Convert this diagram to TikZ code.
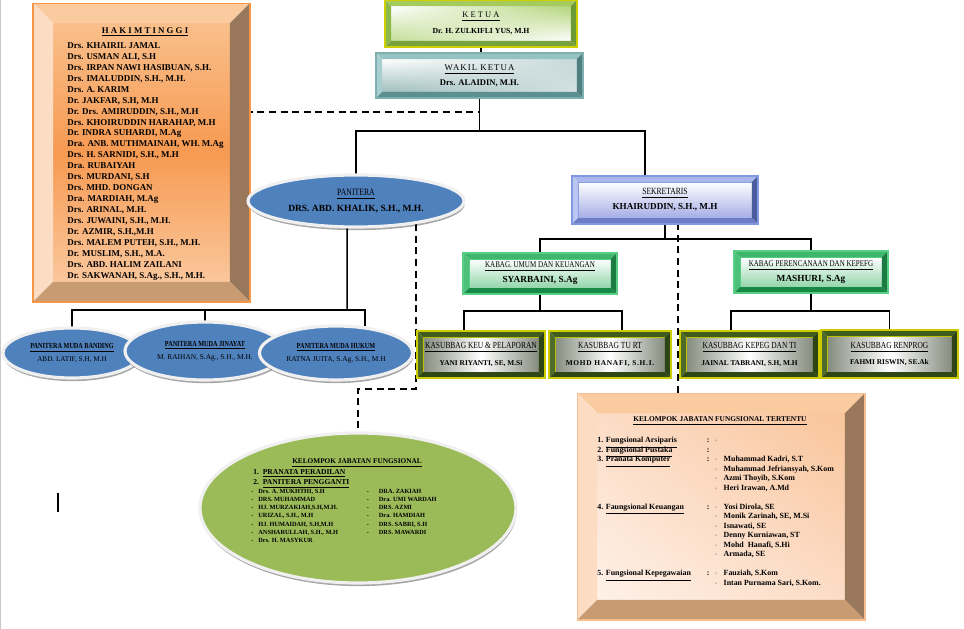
\documentclass[tikz,border=0pt]{standalone}
\usepackage{fontspec}
\setmainfont{Liberation Serif}
\newfontfamily\narrowfont[FakeStretch=0.8]{Liberation Serif}
\usepackage{tikz}
\usetikzlibrary{shapes.geometric,shadows,shadings,backgrounds}

% box colours
\definecolor{hakBorder}{HTML}{F79646}
\definecolor{hakTopB}{HTML}{FBCBA0}
\definecolor{hakLeftB}{HTML}{FCDDC4}
\definecolor{hakRightB}{HTML}{98775A}
\definecolor{hakBotB}{HTML}{C99B72}
\definecolor{hakFTop}{HTML}{F9BF8B}
\definecolor{hakFMid}{HTML}{F79A52}
\definecolor{hakFBot}{HTML}{FAC79C}
\definecolor{terBorder}{HTML}{F8BE90}
\definecolor{terFTop}{HTML}{F9C49A}
\definecolor{terFLow}{HTML}{FEF1E8}
\definecolor{terFMid}{HTML}{FCDCC6}
\definecolor{ketBorder}{HTML}{CFCF00}
\definecolor{ketTopB}{HTML}{A4CB5C}
\definecolor{ketLeftB}{HTML}{8DB94C}
\definecolor{ketRightB}{HTML}{6B9A36}
\definecolor{ketBotB}{HTML}{77A23D}
\definecolor{ketFace}{HTML}{B2D47A}
\definecolor{wakBorder}{HTML}{7FAFAF}
\definecolor{wakTopB}{HTML}{93C3C3}
\definecolor{wakLeftB}{HTML}{A7CFCF}
\definecolor{wakRightB}{HTML}{507F7F}
\definecolor{wakBotB}{HTML}{5C8F8F}
\definecolor{wakFace}{HTML}{9FBDBD}
\definecolor{sekBorder}{HTML}{8199E2}
\definecolor{sekTopB}{HTML}{A9B8EC}
\definecolor{sekLeftB}{HTML}{BAC5F1}
\definecolor{sekRightB}{HTML}{4B5C9C}
\definecolor{sekBotB}{HTML}{6D7EC6}
\definecolor{sekFace}{HTML}{A5AEE6}
\definecolor{kabBorder}{HTML}{58CF85}
\definecolor{kabTopB}{HTML}{3EB66B}
\definecolor{kabLeftB}{HTML}{4DC17A}
\definecolor{kabRightB}{HTML}{1C7B40}
\definecolor{kabBotB}{HTML}{178944}
\definecolor{kabFace}{HTML}{92D6AA}
\definecolor{kasBorder}{HTML}{CDCC00}
\definecolor{kasTopB}{HTML}{3F5B1E}
\definecolor{kasLeftB}{HTML}{4E6B2A}
\definecolor{kasRightB}{HTML}{2D4414}
\definecolor{kasBotB}{HTML}{2F4716}
\definecolor{kasSide}{HTML}{858C7E}
\definecolor{panBlue}{HTML}{4F81BD}
\definecolor{fungGreen}{HTML}{9BBB59}

\newcommand{\fs}[2]{\fontsize{#1}{#2}\selectfont}
\newcommand{\ulrow}[1]{\smash{\underline{#1}}}
\newcommand{\dsh}{\textcolor{black!45}{-}}
% bevelled frame round a face node: node, width, border, top, left, right, bottom
\newcommand{\bevel}[7]{%
  \path ([shift={(-#2,#2)}]#1.north west) coordinate (o1)
        ([shift={(#2,#2)}]#1.north east) coordinate (o2)
        ([shift={(#2,-#2)}]#1.south east) coordinate (o3)
        ([shift={(-#2,-#2)}]#1.south west) coordinate (o4);
  \fill[#4] (o1) -- (o2) -- (#1.north east) -- (#1.north west) -- cycle;
  \fill[#5] (o1) -- (#1.north west) -- (#1.south west) -- (o4) -- cycle;
  \fill[#6] (o2) -- (o3) -- (#1.south east) -- (#1.north east) -- cycle;
  \fill[#7] (o4) -- (#1.south west) -- (#1.south east) -- (o3) -- cycle;
  \draw[#3, line width=0.6pt] (o1) rectangle (o3);
}

\begin{document}
\begin{tikzpicture}[
  x=0.02cm, y=-0.02cm,
  face/.style={rectangle, inner sep=0pt, outer sep=0pt, align=center, font=\fs{5}{6}},
  oval/.style={ellipse, inner sep=0pt, outer sep=0pt, align=center, font=\fs{5}{6},
    draw=black!6, line width=1.8pt,
    drop shadow={shadow xshift=0.4pt, shadow yshift=-1.8pt, opacity=0.35, fill=black}},
  link/.style={line width=0.85pt},
  dlink/.style={line width=0.85pt, dash pattern=on 4pt off 2.6pt}
]
\useasboundingbox (0,0) rectangle (964,629);

% ── Hakim Tinggi ─────────────────────────────────────────────────────────
\node[face, minimum width=3.54cm, minimum height=5.18cm,
  top color=hakFTop, bottom color=hakFBot, middle color=hakFMid] (hakim) at (141.5,152.5) {};
\bevel{hakim}{0.4cm}{hakBorder}{hakTopB}{hakLeftB}{hakRightB}{hakBotB}
\node[font={\bfseries\fs{5}{6}}] (hakimTitle) at (145,32) {\underline{H A K I M T I N G G I}};
\node[anchor=north west, inner sep=0pt, align=left, font={\bfseries\fs{5.1}{6.24}}] (hakimList) at (67,42)
  {Drs. KHAIRIL JAMAL\\ Drs. USMAN ALI, S.H\\ Drs. IRPAN NAWI HASIBUAN, S.H.\\
   Drs. IMALUDDIN, S.H., M.H.\\ Drs. A. KARIM\\ Dr. JAKFAR, S.H, M.H\\
   Dr. Drs. AMIRUDDIN, S.H., M.H\\ Drs. KHOIRUDDIN HARAHAP, M.H\\ Dr. INDRA SUHARDI, M.Ag\\
   Dra. ANB. MUTHMAINAH, WH. M.Ag\\ Drs. H. SARNIDI, S.H., M.H\\ Dra. RUBAIYAH\\
   Drs. MURDANI, S.H\\ Drs. MHD. DONGAN\\ Dra. MARDIAH, M.Ag\\ Drs. ARINAL, M.H.\\
   Drs. JUWAINI, S.H., M.H.\\ Dr. AZMIR, S.H.,M.H\\ Drs. MALEM PUTEH, S.H., M.H.\\
   Dr. MUSLIM, S.H., M.A.\\ Drs. ABD. HALIM ZAILANI\\ Dr. SAKWANAH, S.Ag., S.H., M.H.};

% ── Ketua / Wakil Ketua ──────────────────────────────────────────────────
\node[face, minimum width=3.6cm, minimum height=0.7cm,
  upper left=white, upper right=ketFace, lower left=ketFace!80, lower right=white] (ketua) at (481,23.5)
  {\fs{4.8}{6}\underline{K E T U A}\\[3pt]\bfseries\fs{4.4}{6}Dr. H. ZULKIFLI YUS, M.H};
\bevel{ketua}{0.12cm}{ketBorder}{ketTopB}{ketLeftB}{ketRightB}{ketBotB}

\node[face, minimum width=3.9cm, minimum height=0.66cm,
  upper left=white, upper right=wakFace!60, lower left=wakFace, lower right=wakFace!45] (wakil) at (479.5,75.5)
  {{\fs{5}{6}\addfontfeatures{LetterSpace=12}\underline{WAKIL KETUA}}\\[2.5pt]\bfseries\fs{4.9}{6}Drs. ALAIDIN, M.H.};
\bevel{wakil}{0.12cm}{wakBorder}{wakTopB}{wakLeftB}{wakRightB}{wakBotB}

% ── Panitera and Panitera Muda ───────────────────────────────────────────
\node[oval, fill=panBlue, minimum width=4.32cm, minimum height=1.04cm] (panitera) at (356,201)
  {\narrowfont\fs{5.5}{6}\underline{PANITERA}\\[3pt]\rmfamily\bfseries\fs{5.4}{6}DRS. ABD. KHALIK, S.H., M.H.};

\node[oval, fill=panBlue, minimum width=2.76cm, minimum height=1.0cm] (muda1) at (72,353)
  {\narrowfont\bfseries\fs{4.4}{5}\underline{PANITERA MUDA BANDING}\\[1pt]\rmfamily\fs{4.1}{5}ABD. LATIF, S.H, M.H};
\node[oval, fill=panBlue, minimum width=3.2cm, minimum height=1.16cm] (muda2) at (205,351)
  {\narrowfont\bfseries\fs{4.4}{5}\underline{PANITERA MUDA JINAYAT}\\[1.4pt]\rmfamily\fs{4.2}{5}M. RAIHAN, S.Ag., S.H., M.H.};
\node[oval, fill=panBlue, minimum width=3.06cm, minimum height=1.08cm] (muda3) at (336,353)
  {\narrowfont\bfseries\fs{4.4}{5}\underline{PANITERA MUDA HUKUM}\\[1.4pt]\rmfamily\fs{4.2}{5}RATNA JUITA, S.Ag, S.H., M.H};

% ── Sekretaris and Kabag ─────────────────────────────────────────────────
\node[face, minimum width=3.48cm, minimum height=0.72cm, draw=sekBorder, line width=0.4pt,
  top color=white, bottom color=sekFace] (sekretaris) at (665,200)
  {\narrowfont\fs{5.4}{6}\underline{SEKRETARIS}\\[2.5pt]\rmfamily\bfseries\fs{5.2}{6}KHAIRUDDIN, S.H., M.H};
\bevel{sekretaris}{0.12cm}{sekBorder}{sekTopB}{sekLeftB}{sekRightB}{sekBotB}

\node[face, minimum width=2.84cm, minimum height=0.58cm, draw=kabBorder, line width=0.4pt,
  top color=white, bottom color=kabFace] (kabagU) at (540,273.5)
  {\narrowfont\fs{5}{6}\underline{KABAG. UMUM DAN KEUANGAN}\\[2.5pt]\rmfamily\bfseries\fs{5.3}{6}SYARBAINI, S.Ag};
\bevel{kabagU}{0.12cm}{kabBorder}{kabTopB}{kabLeftB}{kabRightB}{kabBotB}

\node[face, minimum width=2.84cm, minimum height=0.6cm, draw=kabBorder, line width=0.4pt,
  top color=white, bottom color=kabFace] (kabagP) at (811,272)
  {\narrowfont\fs{5}{6}\underline{KABAG PERENCANAAN DAN KEPEFG}\\[2.5pt]\rmfamily\bfseries\fs{5.3}{6}MASHURI, S.Ag};
\bevel{kabagP}{0.12cm}{kabBorder}{kabTopB}{kabLeftB}{kabRightB}{kabBotB}

% ── Kasubbag ─────────────────────────────────────────────────────────────
\tikzset{kasface/.style={face, minimum height=0.7cm, draw=kasBorder, line width=0.5pt,
  left color=kasSide, right color=kasSide, middle color=white}}
\node[kasface, minimum width=2.32cm] (keu) at (481,354.5)
  {\narrowfont\fs{5.3}{6}\underline{KASUBBAG KEU \& PELAPORAN}\\[3.3pt]\rmfamily\bfseries\fs{4.2}{6}YANI RIYANTI, SE, M.Si};
\bevel{keu}{0.12cm}{kasBorder}{kasTopB}{kasLeftB}{kasRightB}{kasBotB}
\node[kasface, minimum width=2.2cm] (turt) at (610,354.5)
  {\narrowfont\fs{5.3}{6}\underline{KASUBBAG TU RT}\\[3.3pt]\rmfamily\bfseries\fs{4.2}{6}\addfontfeatures{LetterSpace=10}MOHD HANAFI, S.H.I.};
\bevel{turt}{0.12cm}{kasBorder}{kasTopB}{kasLeftB}{kasRightB}{kasBotB}
\node[kasface, minimum width=2.54cm] (kepeg) at (749.5,354.5)
  {\narrowfont\fs{5.3}{6}\underline{KASUBBAG KEPEG DAN TI}\\[3.3pt]\rmfamily\bfseries\fs{4.2}{6}JAINAL TABRANI, S.H, M.H};
\bevel{kepeg}{0.12cm}{kasBorder}{kasTopB}{kasLeftB}{kasRightB}{kasBotB}
\node[kasface, minimum width=2.5cm, minimum height=0.72cm] (renprog) at (889.5,354)
  {\narrowfont\fs{5.3}{6}\underline{KASUBBAG RENPROG}\\[3.3pt]\rmfamily\bfseries\fs{4.2}{6}FAHMI RISWIN, SE.Ak};
\bevel{renprog}{0.12cm}{kasBorder}{kasTopB}{kasLeftB}{kasRightB}{kasBotB}

% ── Kelompok Jabatan Fungsional (ellipse) ────────────────────────────────
\node[oval, fill=fungGreen, minimum width=6.32cm, minimum height=3.0cm] (fung) at (358,508) {};
\node[font={\bfseries\fs{4.15}{5}}] (fungTitle) at (357,463) {\underline{KELOMPOK JABATAN FUNGSIONAL}};
\node[anchor=north west, inner sep=0pt, align=left, font={\bfseries\fs{4.3}{5.7}}] (fungHead) at (253,469)
  {1.\ \ \underline{PRANATA PERADILAN}\\ 2.\ \ \underline{PANITERA PENGGANTI}};
\node[anchor=north west, inner sep=0pt, font={\bfseries\fs{3.6}{4.7}}] (fungList) at (251,487)
  {\begin{tabular}{@{}p{4pt}@{}p{61.8pt}@{}p{6.8pt}@{}l@{}}
   - & Drs. A. MUKHTHI, S.H & - & DRA. ZAKIAH\\
   - & DRS. MUHAMMAD & - & Dra. UMI WARDAH\\
   - & HJ. MURZAKIAH,S.H,M.H. & - & DRS. AZMI\\
   - & URIZAL, S.H., M.H & - & Dra. HAMDIAH\\
   - & HJ. HUMAIDAH, S.H,M.H & - & DRS. SABRI, S.H\\
   - & ANSHARULLAH, S.H., M.H & - & DRS. MAWARDI\\
   - & Drs. H. MASYKUR & &
   \end{tabular}};

% ── Kelompok Jabatan Fungsional Tertentu (box) ───────────────────────────
\node[face, minimum width=4.96cm, minimum height=3.74cm,
  upper left=terFMid, upper right=terFTop, lower left=terFLow, lower right=terFMid] (tertentu) at (721,506.5) {};
\bevel{tertentu}{0.4cm}{terBorder}{hakTopB}{hakLeftB}{hakRightB}{hakBotB}
\node[font={\bfseries\fs{4.2}{5}}] (tertentuTitle) at (720,421) {\underline{KELOMPOK JABATAN FUNGSIONAL TERTENTU}};
\node[anchor=north west, inner sep=0pt, font={\bfseries\fs{4.5}{5.4}}] (tertentuList) at (597,436)
  {\begin{tabular}{@{}p{62.4pt}@{}p{4.5pt}@{}p{5pt}@{}l@{}}
   1. \ulrow{Fungsional Arsiparis} & : & \dsh & \\
   2. \ulrow{Fungsional Pustaka} & : & & \\
   3. \ulrow{Pranata Komputer} & : & \dsh & Muhammad Kadri, S.T\\
   & & \dsh & Muhammad Jefriansyah, S.Kom\\
   & & \dsh & Azmi Thoyib, S.Kom\\
   & & \dsh & Heri Irawan, A.Md\\
   & & & \\
   4. \ulrow{Faungsional Keuangan} & : & \dsh & Yosi Dirola, SE\\
   & & \dsh & Monik Zarinah, SE, M.Si\\
   & & \dsh & Isnawati, SE\\
   & & \dsh & Denny Kurniawan, ST\\
   & & \dsh & Mohd\ \ Hanafi, S.Hi\\
   & & \dsh & Armada, SE\\
   & & & \\
   5. \ulrow{Fungsional Kepegawaian} & : & \dsh & Fauziah, S.Kom\\
   & & \dsh & Intan Purnama Sari, S.Kom.
   \end{tabular}};

% text cursor
\draw[line width=0.6pt] (58,493) -- (58,512);

% ── Connectors (behind the boxes) ────────────────────────────────────────
\begin{scope}[on background layer]
  \fill[white] (0,0) rectangle (964,629);
  \draw[black!22, line width=0.8pt] (0.5,0) -- (0.5,629);
  \coordinate (jTop) at (480,131);
  \coordinate (jSek) at (665,239);
  \coordinate (jU) at (540,311);
  \coordinate (jP) at (811,311);
  \coordinate (jPan) at (347,310);
  \coordinate (dHak) at (480,112);
  \coordinate (dPan) at (416,389);
  \coordinate (dSek) at (678,400);

  \draw[link] (ketua.south) -- (ketua.south |- wakil.north);
  \draw[link] (wakil.south) -- (wakil.south |- jTop);
  \draw[link] (panitera.north) |- (jTop) -| ([xshift=-0.4cm]sekretaris.north);
  \draw[link] (sekretaris.south) -- (jSek);
  \draw[link] (kabagU.north) |- (jSek) -| (kabagP.north);
  \draw[link] (kabagU.south) -- (jU);
  \draw[link] ([xshift=-0.34cm]keu.north) |- (jU) -| ([xshift=0.24cm]turt.north);
  \draw[link] (kabagP.south) -- (jP);
  \draw[link] ([xshift=-0.37cm]kepeg.north) |- (jP) -| (renprog.north);
  \draw[link] ([xshift=-0.18cm]panitera.south) -- (jPan);
  \draw[link] (muda1.north) |- (jPan) -| ([xshift=0.58cm]muda3.north);
  \draw[link] (muda2.north) -- (muda2.north |- jPan);

  \draw[dlink] (hakim.center |- dHak) -- (dHak);
  \draw[dlink] (panitera.center -| dPan) -- (dPan) -| (fung.north);
  \draw[dlink] (sekretaris.center -| dSek) -- (tertentu.north -| dSek);
\end{scope}
\end{tikzpicture}
\end{document}
